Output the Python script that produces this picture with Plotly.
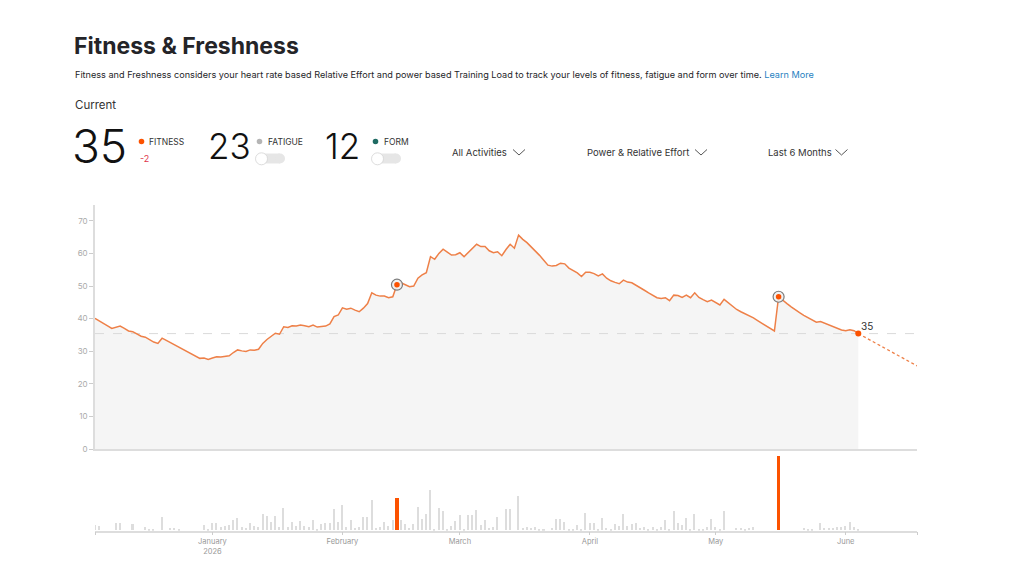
import pandas as pd
import plotly.graph_objects as go

# ---------------- data ----------------
start_date = "2025-12-04"
fitness = [
    40.1, 39.4, 38.6, 37.8, 37.0, 37.4, 37.7, 37.0, 36.2, 36.0,
    35.2, 34.6, 34.3, 33.6, 32.8, 32.4, 34.0, 33.3, 32.6, 31.9,
    31.2, 30.5, 29.8, 29.1, 28.4, 27.8, 27.9, 27.5, 27.9, 28.3,
    28.2, 28.3, 28.6, 29.6, 30.4, 30.1, 29.9, 30.4, 30.3, 30.6,
    32.4, 33.6, 34.6, 35.5, 35.2, 37.5, 37.3, 37.8, 37.7, 38.0,
    37.8, 37.5, 38.0, 37.4, 37.6, 37.7, 38.4, 40.6, 41.1, 43.3,
    42.9, 43.2, 42.6, 42.1, 43.2, 44.6, 47.9, 47.2, 46.9, 46.9,
    46.4, 46.7, 50.4, 51.0, 50.4, 49.8, 50.0, 52.4, 53.4, 54.1,
    59.0, 58.2, 60.0, 61.3, 60.4, 59.5, 59.6, 60.2, 59.0, 60.3,
    61.6, 62.8, 62.1, 62.1, 60.8, 60.2, 60.5, 59.3, 61.2, 62.8,
    61.6, 65.6, 64.3, 63.3, 62.0, 60.8, 59.4, 57.9, 56.4, 56.1,
    56.3, 57.0, 56.8, 55.5, 54.7, 54.0, 52.9, 54.2, 54.2, 53.8,
    53.1, 53.7, 52.4, 51.6, 51.1, 50.7, 51.8, 51.2, 51.0, 50.3,
    49.5, 48.7, 47.9, 47.1, 46.4, 46.2, 46.4, 45.5, 47.2, 47.1,
    46.5, 47.2, 46.4, 47.9, 46.5, 45.8, 45.2, 45.7, 44.9, 44.2,
    45.9, 44.8, 43.9, 42.8, 42.1, 41.5, 40.8, 40.2, 39.4, 38.6,
    37.7, 36.8, 36.2, 46.7, 45.5, 44.6, 43.6, 42.6, 41.8, 41.0,
    40.3, 39.5, 38.9, 39.1, 38.6, 38.0, 37.4, 37.0, 36.5, 36.3,
    36.6, 36.3, 35.4,
]
daily_load = [
    20, 16, 0, 0, 0, 28, 28, 0, 0, 25,
    0, 0, 12, 4, 6, 0, 55, 0, 8, 8,
    6, 0, 0, 0, 0, 0, 21, 6, 31, 31,
    12, 17, 21, 41, 48, 15, 11, 28, 19, 12,
    65, 57, 35, 57, 12, 88, 12, 35, 17, 37,
    17, 12, 41, 4, 25, 28, 31, 85, 35, 99,
    12, 41, 8, 12, 52, 55, 121, 8, 12, 35,
    19, 41, 127, 41, 25, 8, 25, 92, 45, 65,
    161, 6, 88, 75, 6, 17, 37, 61, 6, 61,
    61, 79, 21, 41, 8, 12, 52, 0, 85, 84,
    0, 137, 8, 15, 8, 12, 6, 6, 0, 8,
    45, 45, 35, 6, 6, 21, 6, 68, 31, 31,
    6, 48, 8, 6, 25, 17, 64, 17, 25, 28,
    8, 12, 6, 12, 6, 15, 41, 6, 75, 28,
    21, 48, 6, 65, 4, 4, 12, 45, 12, 4,
    75, 0, 0, 8, 8, 6, 8, 12, 0, 0,
    0, 0, 0, 295, 0, 0, 0, 0, 0, 8,
    6, 6, 0, 31, 8, 8, 10, 12, 12, 17,
    35, 12, 4,
]
highlight_dates = ["2026-02-14", "2026-05-16"]
projection_dates = ["2026-06-04", "2026-06-18"]
projection_values = [35.4, 25.5]
current_values = {"fitness": 35, "fatigue": 23, "form": 12, "fitness_change": -2}
month_ticks = ["2026-01-01", "2026-02-01", "2026-03-01", "2026-04-01", "2026-05-01", "2026-06-01"]
month_labels = ["January<br>2026", "February", "March", "April", "May", "June"]
y_ticks = [0, 10, 20, 30, 40, 50, 60, 70]

# ---------------- styling helpers ----------------
W, H = 1024, 576
H_EFF = 571.0  # empirical vertical calibration of the rendered page
FONT = "Inter"
ORANGE = "#FC5200"
LINE = "#EE8048"


def px(x):
    return x / W


def py(y):
    return 1 - y / H_EFF


dates = pd.date_range(start_date, periods=len(fitness), freq="D")
hl = pd.to_datetime(highlight_dates)
fit_series = pd.Series(fitness, index=dates)
x_start = dates[0]
x_end = pd.to_datetime(projection_dates[-1])

fig = go.Figure()

# fill under the fitness line
fig.add_trace(go.Scatter(x=dates, y=fitness, mode="lines", line=dict(width=0),
                         fill="tozeroy", fillcolor="#F5F5F5", hoverinfo="skip",
                         xaxis="x", yaxis="y"))
# dashed reference line at current fitness
fig.add_trace(go.Scatter(x=[x_start, x_end], y=[fitness[-1], fitness[-1]], mode="lines",
                         line=dict(color="#DADADA", width=1, dash="dash"),
                         hoverinfo="skip", xaxis="x", yaxis="y"))
# fitness line
fig.add_trace(go.Scatter(x=dates, y=fitness, mode="lines",
                         line=dict(color=LINE, width=1.5),
                         xaxis="x", yaxis="y"))
# projection
fig.add_trace(go.Scatter(x=pd.to_datetime(projection_dates), y=projection_values, mode="lines",
                         line=dict(color=LINE, width=1.3, dash="3px,2.5px"),
                         xaxis="x", yaxis="y"))
# highlighted activity markers
hl_y = [fit_series[d] for d in hl]
fig.add_trace(go.Scatter(x=hl, y=hl_y, mode="markers",
                         marker=dict(size=11, color="rgba(240,240,240,0.9)",
                                     line=dict(color="#7A7A7A", width=1.2)),
                         xaxis="x", yaxis="y"))
fig.add_trace(go.Scatter(x=hl, y=hl_y, mode="markers",
                         marker=dict(size=5.5, color=ORANGE),
                         xaxis="x", yaxis="y"))
# current point
fig.add_trace(go.Scatter(x=[dates[-1]], y=[fitness[-1]], mode="markers",
                         marker=dict(size=6, color=ORANGE),
                         xaxis="x", yaxis="y"))
fig.add_annotation(x=dates[-1], y=fitness[-1], xref="x", yref="y",
                   text=str(current_values["fitness"]), showarrow=False,
                   xanchor="left", yanchor="bottom", xshift=1, yshift=0,
                   font=dict(family=FONT, size=10, color="#333"))

# daily load bars
is_hl = [d in set(hl) for d in dates]
bar_colors = [ORANGE if h else "#DDDDDD" for h in is_hl]
bar_widths = [0.75 * 86400000 if h else 0.36 * 86400000 for h in is_hl]
fig.add_trace(go.Bar(x=dates, y=daily_load, marker=dict(color=bar_colors, line=dict(width=0)),
                     width=bar_widths, xaxis="x2", yaxis="y2"))

x_dom = [px(95), px(917)]
fig.update_layout(
    width=W, height=H, margin=dict(l=0, r=0, t=0, b=0),
    paper_bgcolor="white", plot_bgcolor="white", showlegend=False,
    font=dict(family=FONT),
    xaxis=dict(domain=x_dom, range=[x_start, x_end], type="date",
               showticklabels=False, ticks="", showgrid=False, zeroline=False,
               showline=True, linecolor="#DDDDDD", linewidth=1.5, anchor="y"),
    yaxis=dict(domain=[py(449), py(204.5)], range=[0, 75], tickvals=y_ticks,
               showgrid=False, zeroline=False, showline=True, linecolor="#DDDDDD",
               linewidth=1.5, ticks="outside", ticklen=4, tickcolor="#CCCCCC",
               tickfont=dict(family=FONT, size=8, color="#AAAAAA"), anchor="x"),
    xaxis2=dict(domain=x_dom, range=[x_start, x_end], type="date",
                tickvals=[x_start] + list(pd.to_datetime(month_ticks)) + [x_end],
                ticktext=[""] + month_labels + [""],
                ticks="outside", ticklen=3, tickcolor="#CCCCCC",
                tickfont=dict(family=FONT, size=7.5, color="#999999"),
                showgrid=False, zeroline=False, showline=True, linecolor="#DDDDDD",
                linewidth=1.5, anchor="y2"),
    yaxis2=dict(domain=[py(530.7), py(455.4)], range=[0, 300], visible=False,
                anchor="x2"),
    bargap=0,
)


def text(x, y, s, size, color="#242428", weight=400, xanchor="left", yanchor="middle"):
    fig.add_annotation(x=px(x), y=py(y), xref="paper", yref="paper", text=s,
                       showarrow=False, xanchor=xanchor, yanchor=yanchor,
                       font=dict(family=FONT, size=size, color=color, weight=weight))


def circle(cx, cy, r, fill, line_color=None, lw=0):
    fig.add_shape(type="circle", xref="paper", yref="paper",
                  x0=px(cx - r), x1=px(cx + r), y0=py(cy + r), y1=py(cy - r),
                  fillcolor=fill, line=dict(color=line_color or fill, width=lw), layer="above")


def toggle(x0, cy):
    circle(x0 + 5, cy, 5, "#E6E6E6")
    fig.add_shape(type="rect", xref="paper", yref="paper",
                  x0=px(x0 + 5), x1=px(x0 + 24), y0=py(cy + 5), y1=py(cy - 5),
                  fillcolor="#E6E6E6", line=dict(width=0), layer="above")
    circle(x0 + 24, cy, 5, "#E6E6E6")
    circle(x0 + 5.5, cy + 0.3, 6, "white", "#D4D4D4", 0.8)


def chevron(x0, y0):
    fig.add_shape(type="path", xref="paper", yref="paper",
                  path=f"M {px(x0)},{py(y0)} L {px(x0 + 6)},{py(y0 + 5.5)} L {px(x0 + 12)},{py(y0)}",
                  line=dict(color="#555555", width=1), layer="above")


# header
text(72, 45.5, "Fitness &amp; Freshness", 23, "#242428", 700)
text(73, 74, "Fitness and Freshness considers your heart rate based Relative Effort and power based "
             "Training Load to track your levels of fitness, fatigue and form over time. "
             "<span style='color:#1F7FC1'>Learn More</span>", 9.15, "#242428")
text(73, 104.5, "Current", 11.5, "#333333")

# current values
text(70, 145.5, str(current_values["fitness"]), 46, "#111111", 300)
circle(141.5, 141.5, 2.8, ORANGE)
text(147, 141.5, "FITNESS", 8.5, "#333333")
text(138, 158.5, f"{current_values['fitness_change']}", 9, "#E0344A")

text(205.5, 146, str(current_values["fatigue"]), 35, "#111111", 300)
circle(259.5, 141.5, 2.8, "#B5B5B5")
text(265.5, 141.5, "FATIGUE", 8.5, "#333333")
toggle(256, 158.5)

text(322.5, 146, str(current_values["form"]), 35, "#111111", 300)
circle(375.5, 141.5, 2.8, "#1F6B63")
text(382, 141.5, "FORM", 8.5, "#333333")
toggle(372, 158.5)

# dropdowns
text(450, 152.5, "All Activities", 9.5, "#333333")
chevron(513, 149.5)
text(585, 152.5, "Power &amp; Relative Effort", 9.5, "#333333")
chevron(695, 149.5)
text(765.5, 152.5, "Last 6 Months", 9.5, "#333333")
chevron(835.5, 149.5)

fig.write_html("out.html")
